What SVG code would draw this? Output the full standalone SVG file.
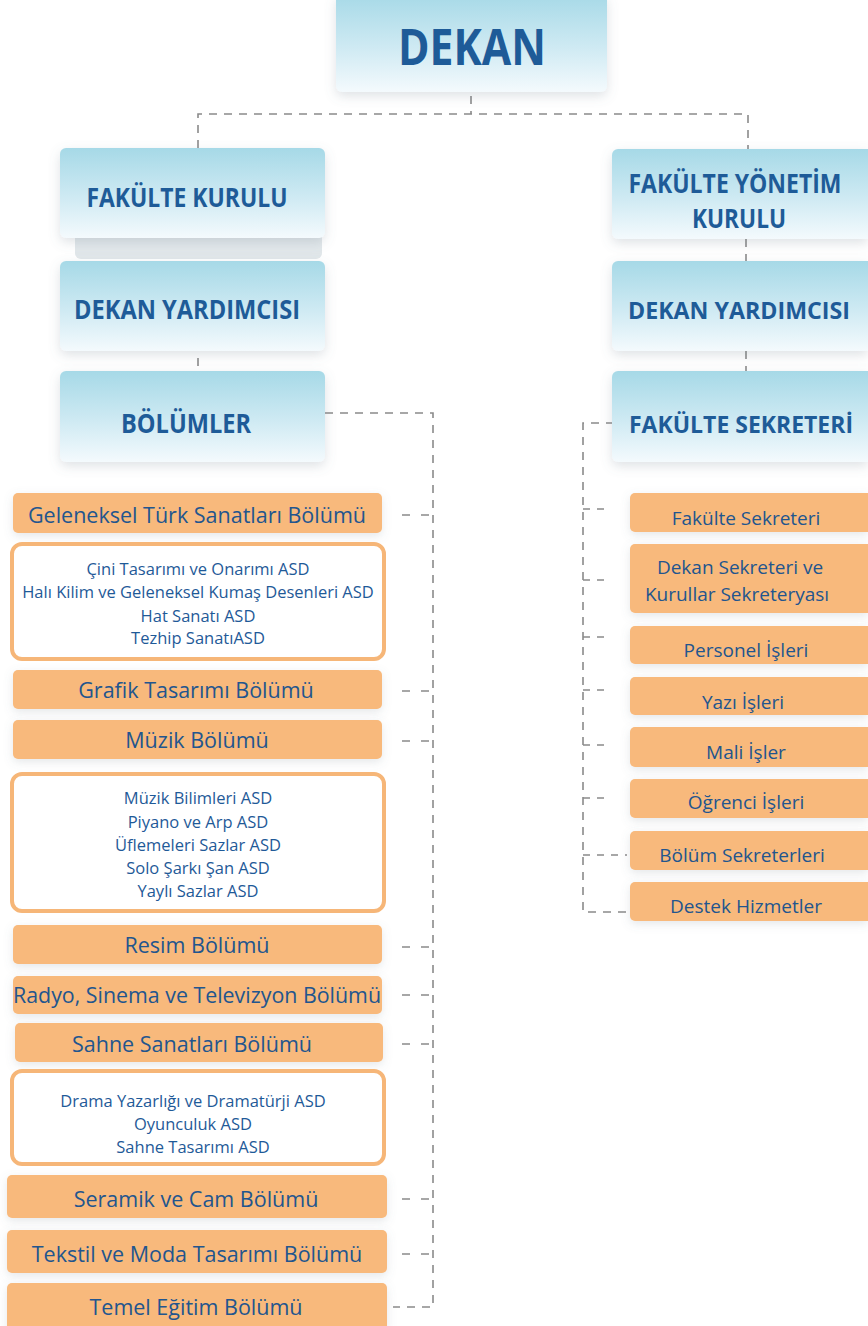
<svg xmlns="http://www.w3.org/2000/svg" width="868" height="1326" viewBox="0 0 868 1326">
<defs>
<linearGradient id="blueGrad" x1="0" y1="0" x2="0" y2="1">
<stop offset="0" stop-color="#a6d9e7"/>
<stop offset="0.55" stop-color="#cfeaf3"/>
<stop offset="1" stop-color="#f4fafd"/>
</linearGradient>
<filter id="sh" x="-20%" y="-30%" width="140%" height="170%">
<feDropShadow dx="0" dy="4" stdDeviation="6" flood-color="#6a7c88" flood-opacity="0.22"/>
</filter>
<filter id="sh2" x="-10%" y="-30%" width="120%" height="170%">
<feDropShadow dx="0" dy="3" stdDeviation="5" flood-color="#6a7c88" flood-opacity="0.18"/>
</filter>
</defs>
<style>
.blue{fill:url(#blueGrad);filter:url(#sh);}
.org{fill:#f8b97b;filter:url(#sh2);}
.asd{fill:#ffffff;stroke:#f6b678;stroke-width:4;}
.ttl{font-family:"Open Sans","Liberation Sans",sans-serif;font-weight:700;fill:#1e5b98;text-anchor:middle;}
.t1{font-family:"Open Sans","Liberation Sans",sans-serif;font-size:21.5px;fill:#22558e;text-anchor:middle;}
.t2{font-family:"Open Sans","Liberation Sans",sans-serif;font-size:16.5px;fill:#1f5a98;text-anchor:middle;}
.t3{font-family:"Open Sans","Liberation Sans",sans-serif;font-size:19px;fill:#22558e;text-anchor:middle;}
.dash{fill:none;stroke:#8a8a8a;stroke-width:1.6;stroke-dasharray:8,7;}
.tick{fill:none;stroke:#8a8a8a;stroke-width:1.6;stroke-dasharray:8,11;}
.rtick{fill:none;stroke:#8a8a8a;stroke-width:1.6;stroke-dasharray:7,7;}
</style>
<rect width="868" height="1326" fill="#ffffff"/>

<g id="connectors">
<path class="dash" d="M471 96 V114"/>
<path class="dash" d="M198 148 V114 H748 V150"/>
<path class="dash" d="M746 239 V261"/>
<path class="dash" d="M746 351 V371"/>
<path class="dash" d="M198 358 V370"/>
<path class="dash" d="M325 413 H433 V1307 H393"/>
<path class="tick" d="M402 515 H433"/>
<path class="tick" d="M402 691 H433"/>
<path class="tick" d="M402 741 H433"/>
<path class="tick" d="M402 947 H433"/>
<path class="tick" d="M402 995 H433"/>
<path class="tick" d="M402 1044 H433"/>
<path class="tick" d="M402 1199 H433"/>
<path class="tick" d="M402 1254 H433"/>
<path class="dash" d="M614 423 H583 V912 H630"/>
<path class="rtick" d="M583 509 H611"/>
<path class="rtick" d="M583 580 H611"/>
<path class="rtick" d="M583 637 H611"/>
<path class="rtick" d="M583 690 H611"/>
<path class="rtick" d="M583 745 H611"/>
<path class="rtick" d="M583 798 H611"/>
<path class="rtick" d="M583 855 H627"/>
</g>

<g id="dekan">
<rect class="blue" x="336" y="-6" width="271" height="98" rx="6"/>
<text class="ttl" x="472" y="65" font-size="50" textLength="148" lengthAdjust="spacingAndGlyphs">DEKAN</text>
</g>

<g id="fakulte-kurulu">
<rect x="75" y="225" width="247" height="34" rx="6" fill="#e1e7ea"/>
<rect class="blue" x="60" y="148" width="265" height="90" rx="6"/>
<text class="ttl" x="187" y="207" font-size="26" textLength="201" lengthAdjust="spacingAndGlyphs">FAKÜLTE KURULU</text>
</g>

<g id="dekan-yardimcisi-sol">
<rect class="blue" x="60" y="261" width="265" height="90" rx="6"/>
<text class="ttl" x="187" y="319" font-size="26" textLength="226" lengthAdjust="spacingAndGlyphs">DEKAN YARDIMCISI</text>
</g>

<g id="bolumler">
<rect class="blue" x="60" y="371" width="265" height="91" rx="6"/>
<text class="ttl" x="186" y="433" font-size="26" textLength="130" lengthAdjust="spacingAndGlyphs">BÖLÜMLER</text>
</g>

<g id="fakulte-yonetim-kurulu">
<path class="blue" d="M618 149 H868 V239 H618 A6 6 0 0 1 612 233 V155 A6 6 0 0 1 618 149 Z"/>
<text class="ttl" x="735" y="193" font-size="26" textLength="213" lengthAdjust="spacingAndGlyphs">FAKÜLTE YÖNETİM</text>
<text class="ttl" x="739" y="228" font-size="26" textLength="94" lengthAdjust="spacingAndGlyphs">KURULU</text>
</g>

<g id="dekan-yardimcisi-sag">
<path class="blue" d="M618 261 H868 V351 H618 A6 6 0 0 1 612 345 V267 A6 6 0 0 1 618 261 Z"/>
<text class="ttl" x="739" y="319" font-size="24" textLength="222" lengthAdjust="spacingAndGlyphs">DEKAN YARDIMCISI</text>
</g>

<g id="fakulte-sekreteri-baslik">
<path class="blue" d="M618 371 H868 V462 H618 A6 6 0 0 1 612 456 V377 A6 6 0 0 1 618 371 Z"/>
<text class="ttl" x="741" y="433" font-size="24" textLength="224" lengthAdjust="spacingAndGlyphs">FAKÜLTE SEKRETERİ</text>
</g>

<g id="geleneksel">
<rect class="org" x="13" y="493" width="369" height="40" rx="5"/>
<text class="t1" x="197" y="523">Geleneksel Türk Sanatları Bölümü</text>
</g>
<g id="geleneksel-asd">
<rect class="asd" x="12" y="544" width="372" height="115" rx="10"/>
<text class="t2" x="198" y="575">Çini Tasarımı ve Onarımı ASD</text>
<text class="t2" x="198" y="598">Halı Kilim ve Geleneksel Kumaş Desenleri ASD</text>
<text class="t2" x="198" y="622">Hat Sanatı ASD</text>
<text class="t2" x="198" y="644">Tezhip SanatıASD</text>
</g>
<g id="grafik">
<rect class="org" x="13" y="670" width="369" height="39" rx="5"/>
<text class="t1" x="196" y="698">Grafik Tasarımı Bölümü</text>
</g>
<g id="muzik">
<rect class="org" x="13" y="720" width="369" height="39" rx="5"/>
<text class="t1" x="197" y="748">Müzik Bölümü</text>
</g>
<g id="muzik-asd">
<rect class="asd" x="12" y="774" width="372" height="137" rx="10"/>
<text class="t2" x="198" y="804">Müzik Bilimleri ASD</text>
<text class="t2" x="198" y="828">Piyano ve Arp ASD</text>
<text class="t2" x="198" y="851">Üflemeleri Sazlar ASD</text>
<text class="t2" x="198" y="874">Solo Şarkı Şan ASD</text>
<text class="t2" x="198" y="897">Yaylı Sazlar ASD</text>
</g>
<g id="resim">
<rect class="org" x="13" y="925" width="369" height="39" rx="5"/>
<text class="t1" x="197" y="953">Resim Bölümü</text>
</g>
<g id="radyo">
<rect class="org" x="13" y="976" width="369" height="38" rx="5"/>
<text class="t1" x="197" y="1003" textLength="368" lengthAdjust="spacingAndGlyphs">Radyo, Sinema ve Televizyon Bölümü</text>
</g>
<g id="sahne">
<rect class="org" x="15" y="1023" width="368" height="39" rx="5"/>
<text class="t1" x="192" y="1052">Sahne Sanatları Bölümü</text>
</g>
<g id="sahne-asd">
<rect class="asd" x="12" y="1071" width="372" height="93" rx="10"/>
<text class="t2" x="193" y="1107">Drama Yazarlığı ve Dramatürji ASD</text>
<text class="t2" x="193" y="1130">Oyunculuk ASD</text>
<text class="t2" x="193" y="1153">Sahne Tasarımı ASD</text>
</g>
<g id="seramik">
<rect class="org" x="7" y="1175" width="380" height="43" rx="5"/>
<text class="t1" x="196" y="1207">Seramik ve Cam Bölümü</text>
</g>
<g id="tekstil">
<rect class="org" x="7" y="1230" width="380" height="43" rx="5"/>
<text class="t1" x="197" y="1262">Tekstil ve Moda Tasarımı Bölümü</text>
</g>
<g id="temel">
<rect class="org" x="7" y="1283" width="380" height="50" rx="5"/>
<text class="t1" x="196" y="1315">Temel Eğitim Bölümü</text>
</g>

<g id="fakulte-sekreteri">
<path class="org" d="M635 493 H868 V532 H635 A5 5 0 0 1 630 527 V498 A5 5 0 0 1 635 493 Z"/>
<text class="t3" x="746" y="525">Fakülte Sekreteri</text>
</g>
<g id="dekan-sekreteri">
<path class="org" d="M635 544 H868 V613 H635 A5 5 0 0 1 630 608 V549 A5 5 0 0 1 635 544 Z"/>
<text class="t3" x="740" y="574">Dekan Sekreteri ve</text>
<text class="t3" x="737" y="601">Kurullar Sekreteryası</text>
</g>
<g id="personel">
<path class="org" d="M635 626 H868 V664 H635 A5 5 0 0 1 630 659 V631 A5 5 0 0 1 635 626 Z"/>
<text class="t3" x="746" y="657">Personel İşleri</text>
</g>
<g id="yazi">
<path class="org" d="M635 677 H868 V715 H635 A5 5 0 0 1 630 710 V682 A5 5 0 0 1 635 677 Z"/>
<text class="t3" x="743" y="709">Yazı İşleri</text>
</g>
<g id="mali">
<path class="org" d="M635 727 H868 V767 H635 A5 5 0 0 1 630 762 V732 A5 5 0 0 1 635 727 Z"/>
<text class="t3" x="746" y="759">Mali İşler</text>
</g>
<g id="ogrenci">
<path class="org" d="M635 779 H868 V818 H635 A5 5 0 0 1 630 813 V784 A5 5 0 0 1 635 779 Z"/>
<text class="t3" x="746" y="809">Öğrenci İşleri</text>
</g>
<g id="bolum-sekreterleri">
<path class="org" d="M635 831 H868 V870 H635 A5 5 0 0 1 630 865 V836 A5 5 0 0 1 635 831 Z"/>
<text class="t3" x="742" y="862">Bölüm Sekreterleri</text>
</g>
<g id="destek">
<path class="org" d="M635 882 H868 V921 H635 A5 5 0 0 1 630 916 V887 A5 5 0 0 1 635 882 Z"/>
<text class="t3" x="746" y="913">Destek Hizmetler</text>
</g>
</svg>
